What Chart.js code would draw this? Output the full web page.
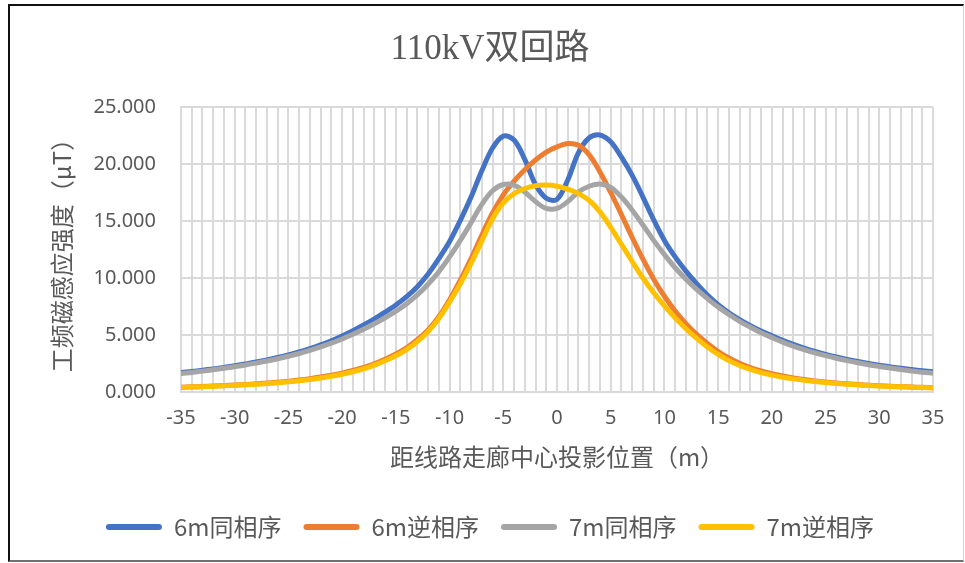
<!DOCTYPE html>
<html>
<head>
<meta charset="utf-8">
<script src="https://cdn.jsdelivr.net/npm/chart.js@4.4.1/dist/chart.umd.min.js"></script>
<style>
  html, body { margin: 0; padding: 0; background: #fff; }
  #wrap { position: relative; width: 965px; height: 563px; }
  #frame {
    position: absolute; left: 8px; top: 4px; right: 1px; bottom: 1px;
    border-top: 2px solid #111; border-left: 2px solid #111;
    border-bottom: 2px solid #707070; border-right: 1px solid #d4d4d4;
    pointer-events: none;
  }
  canvas { position: absolute; left: 0; top: 0; }
</style>
</head>
<body>
<div id="wrap">
  <canvas id="chart" width="965" height="563"></canvas>
  <div id="frame"></div>
</div>
<script>
// distance from corridor centre (m)
const positions = [
  -35, -34, -33, -32, -31, -30, -29, -28, -27, -26, -25, -24, -23, -22, -21, -20, -19, -18,
  -17, -16, -15, -14, -13, -12, -11, -10, -9, -8, -7, -6, -5, -4, -3, -2, -1, 0,
  1, 2, 3, 4, 5, 6, 7, 8, 9, 10, 11, 12, 13, 14, 15, 16, 17, 18,
  19, 20, 21, 22, 23, 24, 25, 26, 27, 28, 29, 30, 31, 32, 33, 34, 35
];

// 6m 同相序
const same6m = [
  1.70, 1.80, 1.91, 2.03, 2.16, 2.30, 2.46, 2.63, 2.82, 3.03, 3.26, 3.52, 3.81, 4.13, 4.50, 4.92, 5.38, 5.88,
  6.42, 7.00, 7.63, 8.36, 9.24, 10.35, 11.70, 13.20, 15.05, 17.10, 19.40, 21.40, 22.45, 22.10, 20.40, 18.20, 17.00, 16.90,
  18.60, 21.00, 22.30, 22.55, 21.95, 20.60, 19.00, 17.10, 15.10, 13.30, 11.85, 10.60, 9.50, 8.50, 7.65, 6.95, 6.35, 5.82,
  5.35, 4.93, 4.53, 4.17, 3.85, 3.56, 3.30, 3.07, 2.86, 2.67, 2.50, 2.35, 2.21, 2.08, 1.97, 1.87, 1.78
];

// 6m 逆相序
const inverse6m = [
  0.42, 0.45, 0.48, 0.52, 0.56, 0.61, 0.66, 0.72, 0.78, 0.86, 0.95, 1.05, 1.17, 1.31, 1.47, 1.66, 1.89, 2.16,
  2.48, 2.87, 3.33, 3.88, 4.58, 5.45, 6.60, 8.10, 9.80, 11.70, 13.75, 15.70, 17.30, 18.50, 19.50, 20.35, 21.05, 21.50,
  21.80, 21.65, 20.80, 19.30, 17.50, 15.55, 13.55, 11.65, 9.90, 8.40, 7.10, 6.00, 5.05, 4.25, 3.55, 2.98, 2.52, 2.15,
  1.85, 1.60, 1.40, 1.23, 1.09, 0.97, 0.87, 0.79, 0.72, 0.65, 0.60, 0.55, 0.51, 0.47, 0.44, 0.41, 0.38
];

// 7m 同相序
const same7m = [
  1.62, 1.72, 1.83, 1.95, 2.08, 2.22, 2.37, 2.54, 2.72, 2.92, 3.14, 3.38, 3.65, 3.95, 4.28, 4.65, 5.06, 5.50,
  5.98, 6.50, 7.08, 7.75, 8.52, 9.45, 10.55, 11.85, 13.30, 14.85, 16.45, 17.65, 18.20, 18.15, 17.55, 16.70, 16.10, 16.10,
  16.70, 17.55, 18.05, 18.25, 17.95, 17.10, 15.95, 14.65, 13.30, 12.05, 10.90, 9.90, 9.00, 8.20, 7.45, 6.80, 6.20, 5.68,
  5.20, 4.78, 4.38, 4.03, 3.72, 3.44, 3.19, 2.96, 2.75, 2.56, 2.39, 2.24, 2.10, 1.97, 1.85, 1.74, 1.65
];

// 7m 逆相序
const inverse7m = [
  0.40, 0.43, 0.46, 0.50, 0.54, 0.58, 0.63, 0.68, 0.74, 0.81, 0.89, 0.99, 1.10, 1.23, 1.38, 1.56, 1.78, 2.04,
  2.36, 2.74, 3.18, 3.72, 4.42, 5.30, 6.45, 7.90, 9.50, 11.30, 13.25, 15.20, 16.60, 17.40, 17.85, 18.10, 18.15, 18.05,
  17.80, 17.40, 16.80, 15.80, 14.45, 12.95, 11.45, 10.00, 8.70, 7.55, 6.50, 5.55, 4.70, 3.95, 3.30, 2.75, 2.32, 1.98,
  1.70, 1.48, 1.30, 1.15, 1.02, 0.92, 0.83, 0.75, 0.68, 0.62, 0.57, 0.52, 0.48, 0.45, 0.42, 0.39, 0.37
];

const seriesNames = ["6m同相序", "6m逆相序", "7m同相序", "7m逆相序"];
const seriesColors = ["#4472C4", "#ED7D31", "#A5A5A5", "#FFC000"];
const seriesValues = [same6m, inverse6m, same7m, inverse7m];

const textColor = "#595959";
const gridColor = "#dadada";

function toPoints(values) {
  return positions.map((x, i) => ({ x: x, y: values[i] }));
}

const datasets = seriesNames.map((name, i) => ({
  label: name,
  data: toPoints(seriesValues[i]),
  borderColor: seriesColors[i],
  backgroundColor: seriesColors[i],
  borderWidth: 5,
  borderCapStyle: "round",
  borderJoinStyle: "round",
  pointRadius: 0,
  pointHoverRadius: 0,
  tension: 0.35,
  fill: false,
  // last series on top, like the spreadsheet
  order: seriesNames.length - 1 - i
}));

new Chart(document.getElementById("chart").getContext("2d"), {
  type: "line",
  data: { datasets: datasets },
  options: {
    responsive: false,
    animation: false,
    events: [],
    layout: { padding: { left: 47, right: 32, top: 0, bottom: 14 } },
    plugins: {
      title: {
        display: true,
        text: "110kV双回路",
        color: textColor,
        font: { family: "'Liberation Serif', 'Noto Sans CJK SC', serif", size: 35, weight: "normal" },
        padding: { top: 29, bottom: 36 }
      },
      legend: {
        position: "bottom",
        labels: {
          color: textColor,
          font: { family: "'Noto Sans CJK SC', 'Noto Sans', sans-serif", size: 24 },
          boxWidth: 56,
          boxHeight: 6,
          useBorderRadius: true,
          borderRadius: 3,
          padding: 22,
          sort: (a, b) => a.datasetIndex - b.datasetIndex,
          generateLabels(chart) {
            const items = Chart.defaults.plugins.legend.labels.generateLabels(chart);
            items.forEach(item => { item.lineWidth = 0; });
            return items;
          }
        }
      },
      tooltip: { enabled: false }
    },
    scales: {
      x: {
        type: "linear",
        min: -35,
        max: 35,
        afterFit(scale) { scale.height = 101; },
        grid: { color: gridColor, lineWidth: 2, drawTicks: false },
        border: { color: gridColor, width: 2 },
        ticks: {
          stepSize: 1,
          autoSkip: false,
          maxRotation: 0,
          padding: 14,
          color: textColor,
          font: { family: "'Noto Sans', sans-serif", size: 20 },
          callback: v => (v % 5 === 0 ? String(v) : "")
        },
        title: {
          display: true,
          text: "距线路走廊中心投影位置（m）",
          color: textColor,
          font: { family: "'Noto Sans CJK SC', sans-serif", size: 24 },
          padding: { top: 0, bottom: 22 }
        }
      },
      y: {
        min: 0,
        max: 25,
        afterFit(scale) { scale.width = 134; },
        grid: { color: gridColor, lineWidth: 2, drawTicks: false },
        border: { color: gridColor, width: 2 },
        ticks: {
          stepSize: 5,
          padding: 25,
          color: textColor,
          font: { family: "'Noto Sans', sans-serif", size: 20 },
          callback: v => v.toFixed(3)
        },
        title: {
          display: true,
          text: "工频磁感应强度（μT）",
          color: textColor,
          font: { family: "'Noto Sans CJK SC', sans-serif", size: 24 },
          padding: { top: 0, bottom: 0 }
        }
      }
    }
  }
});
</script>
</body>
</html>
